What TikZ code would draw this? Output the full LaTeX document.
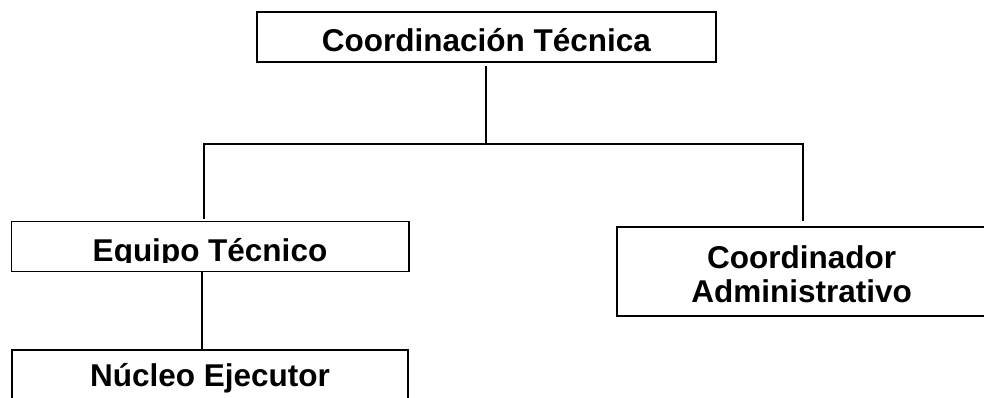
\documentclass[tikz,border=0pt]{standalone}
\usepackage{fontspec}
\setmainfont{Liberation Sans}

\begin{document}
\begin{tikzpicture}[x=1pt,y=-1pt,
    orgbox/.style={draw,rectangle,line width=1.8pt,inner sep=0pt,
      font=\fontsize{31.5}{33.7}\selectfont\bfseries},
    link/.style={line width=1.8pt}]
  \useasboundingbox (0,0) rectangle (984,397);
  \node[orgbox,minimum width=459.3pt,minimum height=50pt,
    text height=30pt,text depth=0pt] (ct) at (486.35,36.7) {Coordinación Técnica};
  % the lower half of this label is cut off in the chart
  \begin{scope}
    \clip (0,0) rectangle (984,262);
    \node[orgbox,draw=none,minimum width=395.4pt,minimum height=48.2pt,
      text height=30.6pt,text depth=0pt] (et) at (210,246.4) {Equipo Técnico};
  \end{scope}
  \draw[line width=1.8pt] (et.north west) rectangle (et.south east);
  \node[orgbox,minimum width=395.4pt,minimum height=73.4pt,
    text height=0pt,text depth=0pt] (nu) at (210,386.7) {Núcleo Ejecutor};
  \node[orgbox,align=center,minimum width=368.7pt,minimum height=89.3pt]
    (ca) at (801.7,271.35) {\rule{0pt}{29pt}Coordinador\\Administrativo};
  % lines of the chart
  \coordinate (split) at (ct.south |- 0,144);
  \draw[link,shorten <=3pt] (ct.south) -- (split);
  \draw[link,shorten >=2pt] (split) -| ([xshift=-5.7pt]et.north);
  \draw[link,shorten >=5pt] (split) -| ([xshift=1pt]ca.north);
  \draw[link] ([xshift=-8.3pt]et.south) -- ([xshift=-8.3pt]nu.north);
\end{tikzpicture}
\end{document}
